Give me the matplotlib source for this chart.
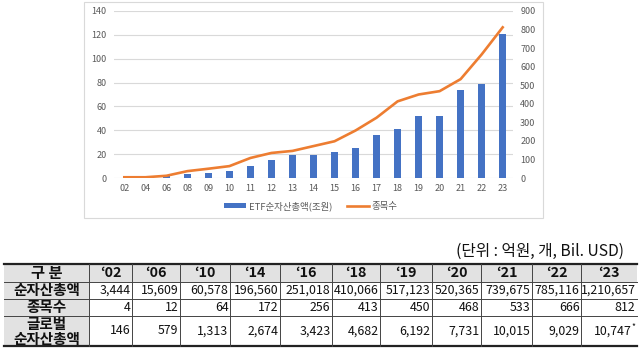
import matplotlib
matplotlib.use("Agg")
import matplotlib.pyplot as plt
from matplotlib.patches import Rectangle, Patch
from matplotlib.lines import Line2D

plt.rcParams['font.family'] = ['Noto Sans CJK KR', 'DejaVu Sans']

# ---- chart data ----
years = ['02', '04', '06', '08', '09', '10', '11', '12', '13', '14',
         '15', '16', '17', '18', '19', '20', '21', '22', '23']
net_assets_tn = [0.34, 0.5, 1.56, 3.1, 4.2, 6.06, 10.0, 14.9, 19.0, 19.7,
                 21.8, 25.1, 35.8, 41.0, 51.7, 52.0, 74.0, 78.5, 121.1]
listing_counts = [4, 4, 12, 37, 50, 64, 108, 135, 146, 172,
                  198, 256, 325, 413, 450, 468, 533, 666, 812]

# ---- table data ----
table_years = ['‘02', '‘06', '‘10', '‘14', '‘16', '‘18', '‘19', '‘20', '‘21', '‘22', '‘23']
table_net_assets = [3444, 15609, 60578, 196560, 251018, 410066, 517123, 520365, 739675, 785116, 1210657]
table_listings = [4, 12, 64, 172, 256, 413, 450, 468, 533, 666, 812]
table_global = [146, 579, 1313, 2674, 3423, 4682, 6192, 7731, 10015, 9029, 10747]
row_labels = ['구 분', '순자산총액', '종목수', '글로벌\n순자산총액']
unit_text = '(단위 : 억원, 개, Bil. USD)'
legend_labels = ['ETF순자산총액(조원)', '종목수']

W, H = 640, 351
fig = plt.figure(figsize=(W / 100, H / 100), dpi=100)

def fx(x):
    return x / W

def fy(y):
    return 1 - y / H

# chart frame
frame = Rectangle((fx(84), fy(218)), fx(543) - fx(84), fy(2) - fy(218),
                  transform=fig.transFigure, facecolor='white',
                  edgecolor='#d9d9d9', lw=0.8, zorder=-5)
fig.patches.append(frame)

ax = fig.add_axes([fx(113.8), fy(178), fx(513.2) - fx(113.8), fy(11) - fy(178)])
ax.set_facecolor('none')
x = list(range(len(years)))
bar_color = '#4472C4'
line_color = '#ED7D31'
ax.bar(x, net_assets_tn, width=0.32, color=bar_color, zorder=3)
ax.set_xlim(-0.5, len(years) - 0.5)
ax.set_ylim(0, 140)
ax.set_yticks(range(0, 141, 20))
ax.set_xticks(x)
ax.set_xticklabels(years)
ax.grid(axis='y', color='#d9d9d9', lw=0.8, zorder=0)
ax.set_axisbelow(True)
for s in ax.spines.values():
    s.set_visible(False)
ax.tick_params(axis='both', length=0, labelsize=6.5, labelcolor='#595959')
ax.tick_params(axis='y', pad=5)
ax.tick_params(axis='x', pad=4.5)

ax2 = ax.twinx()
ax2.plot(x, listing_counts, color=line_color, lw=1.9, zorder=4)
ax2.set_ylim(0, 900)
ax2.set_yticks(range(0, 901, 100))
for s in ax2.spines.values():
    s.set_visible(False)
ax2.tick_params(axis='y', length=0, labelsize=6.5, labelcolor='#595959', pad=5)

handles = [Patch(facecolor=bar_color, edgecolor='none'),
           Line2D([0], [0], color=line_color, lw=1.9)]
fig.legend(handles, legend_labels, loc='center', bbox_to_anchor=(fx(311), fy(206)),
           ncol=2, frameon=False, fontsize=6.8, handlelength=2.3, handleheight=0.5,
           columnspacing=1.6, handletextpad=0.3, labelcolor='#595959')

# ---- table ----
tax = fig.add_axes([0, 0, 1, 1], zorder=-10)
tax.set_xlim(0, W)
tax.set_ylim(H, 0)
tax.axis('off')

col_edges = [4, 89, 132, 180, 230, 280, 332, 380, 432, 481, 532, 581, 637]
row_edges = [264, 281.5, 298.5, 316, 346]
gray = '#e2e2e2'

# backgrounds
tax.add_patch(Rectangle((col_edges[0], row_edges[0]), col_edges[-1] - col_edges[0],
                        row_edges[1] - row_edges[0], facecolor=gray, edgecolor='none'))
tax.add_patch(Rectangle((col_edges[0], row_edges[1]), col_edges[1] - col_edges[0],
                        row_edges[-1] - row_edges[1], facecolor=gray, edgecolor='none'))

# horizontal lines
tax.plot([col_edges[0], col_edges[-1]], [row_edges[0], row_edges[0]], color='#222222', lw=1.6)
tax.plot([col_edges[0], col_edges[-1]], [row_edges[-1], row_edges[-1]], color='#222222', lw=1.6)
for yv in row_edges[1:-1]:
    tax.plot([col_edges[0], col_edges[-1]], [yv, yv], color='#444444', lw=0.7)
for xv in col_edges[1:-1]:
    tax.plot([xv, xv], [row_edges[0], row_edges[-1]], color='#444444', lw=0.7)

# header
for i, lab in enumerate([row_labels[0]] + table_years):
    cx = (col_edges[i] + col_edges[i + 1]) / 2
    cy = (row_edges[0] + row_edges[1]) / 2
    tax.text(cx, cy, lab, ha='center', va='center', fontsize=11 if i == 0 else 10.3,
             fontweight='bold', color='#111111')

# row labels (multi-line labels placed line by line to keep them tight)
for r in range(1, 4):
    cx = (col_edges[0] + col_edges[1]) / 2
    top, bot = row_edges[r], row_edges[r + 1]
    parts = row_labels[r].split('\n')
    n = len(parts)
    step = (bot - top) / n
    for k, part in enumerate(parts):
        cy = top + step * (k + 0.5) + (0.5 if n > 1 else 0)
        tax.text(cx, cy, part, ha='center', va='center', fontsize=10.5,
                 fontweight='bold', color='#111111')

rows = [table_net_assets, table_listings, table_global]
for r, vals in enumerate(rows, start=1):
    cy = (row_edges[r] + row_edges[r + 1]) / 2
    for i, v in enumerate(vals):
        txt = f'{v:,}'
        right = col_edges[i + 2] - 1.5
        if r == 3 and i == len(vals) - 1:
            tax.text(right, cy - 4, '*', ha='right', va='center', fontsize=6, color='#111111')
            right -= 4
        tax.text(right, cy, txt, ha='right', va='center', fontsize=8.9, color='#111111')

tax.text(624, 251, unit_text, ha='right', va='center', fontsize=11.3, color='#111111')

fig.savefig('out.png', dpi=100)
